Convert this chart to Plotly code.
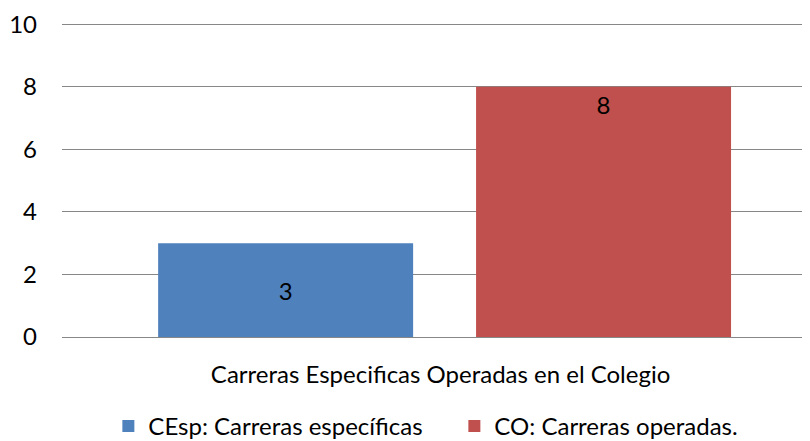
import plotly.graph_objects as go

categories = ["Carreras Especificas Operadas en el Colegio"]
series_names = ["CEsp: Carreras específicas", "CO: Carreras operadas."]
series_values = [[3], [8]]
series_colors = ["#4F81BD", "#C0504D"]
label_anchor = ["middle", "end"]
y_ticks = [0, 2, 4, 6, 8, 10]

FONT = "Lato"
FS = 24

fig = go.Figure()
for name, vals, col, anc in zip(series_names, series_values, series_colors, label_anchor):
    fig.add_trace(go.Bar(
        x=categories, y=vals, name=name,
        marker=dict(color=col, line=dict(width=0)),
        text=[str(v) for v in vals], textposition="inside",
        insidetextanchor=anc,
        textfont=dict(family=FONT, size=FS, color="black"),
        hoverinfo="skip",
    ))

fig.update_layout(
    width=810, height=441,
    margin=dict(l=54, r=0, t=15, b=111),
    paper_bgcolor="white", plot_bgcolor="white",
    barmode="group", bargap=0.169, bargroupgap=0.198,
    font=dict(family=FONT, size=FS, color="black"),
    showlegend=True,
    legend=dict(orientation="h", x=0.519, xanchor="center", y=-0.285, yanchor="middle",
                font=dict(family=FONT, size=FS, color="black"),
                entrywidth=301, entrywidthmode="pixels", tracegroupgap=0),
    uniformtext=dict(mode=False),
)
fig.update_xaxes(
    type="category", range=[-0.5, 0.488], showgrid=False, showline=False,
    zeroline=False, ticks="", ticklabelstandoff=21, ticklabelshift=-4, automargin=False,
    tickfont=dict(family=FONT, size=FS, color="black"),
)
fig.update_yaxes(
    range=[0, 10.04], tickvals=y_ticks, showgrid=True, gridcolor="#878787", gridwidth=1.4,
    zeroline=True, zerolinecolor="#878787", zerolinewidth=1.4, showline=False,
    ticks="", ticklabelstandoff=24, ticklabeloverflow="allow", automargin=False,
    tickfont=dict(family=FONT, size=FS, color="black"),
)
fig.write_html("out.html")
